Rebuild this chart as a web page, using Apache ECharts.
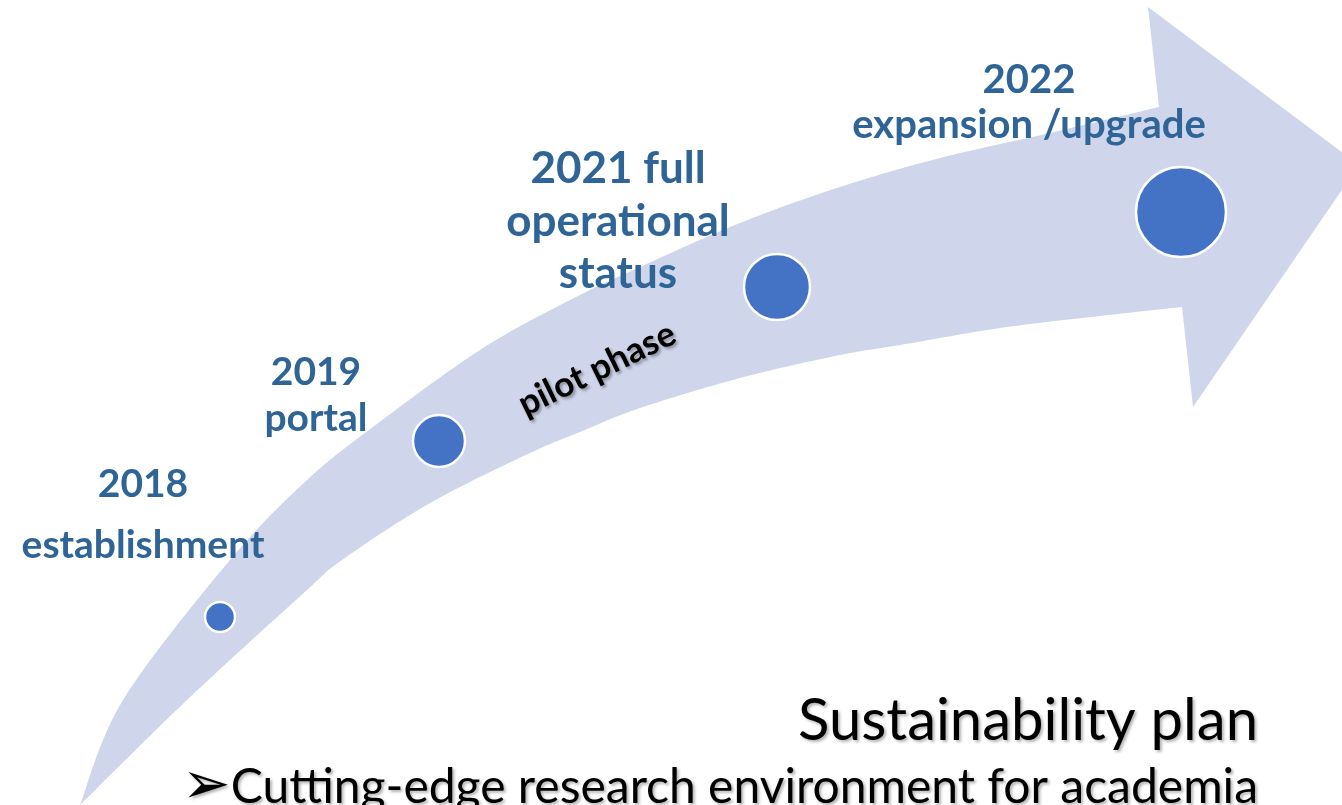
<!DOCTYPE html>
<html>
<head>
<meta charset="utf-8">
<script src="https://cdn.jsdelivr.net/npm/echarts@6/dist/echarts.min.js"></script>
<style>
html,body{margin:0;padding:0;background:#fff;}
#chart{width:1342px;height:805px;}
</style>
</head>
<body>
<div id="chart"></div>
<script>
// ---- data ----
const milestoneYears = ['2018', '2019', '2021', '2022'];
const milestoneLines = [
  ['2018', 'establishment'],
  ['2019', 'portal'],
  ['2021 full', 'operational', 'status'],
  ['2022', 'expansion /upgrade']
];
const milestoneX = [220, 439, 777, 1181];
const milestoneY = [617, 441, 287, 212];
const milestoneWeight = [15, 26, 33, 45];

// arrow outline (value space of the hidden axes)
const arrowUpperX = [80, 123, 230, 307, 373, 480, 570, 640, 740, 840, 940, 1050, 1159];
const arrowUpperY = [805, 700, 560, 480, 427, 350, 300, 267, 223, 187, 158, 133, 107];
const arrowHeadX = [1148, 1359, 1193];
const arrowHeadY = [7, 165, 407];
const arrowLowerX = [1182, 1100, 1000, 900, 840, 740, 640, 580, 530, 430, 342, 307, 187, 80];
const arrowLowerY = [307, 316, 328, 345, 355, 378, 408, 432, 453, 503, 560, 590, 700, 805];

const phaseLabel = 'pilot phase';
const titleText = 'Sustainability plan';
const bulletText = 'Cutting-edge research environment for academia';

// ---- layout / style ----
const blue = '#2F6497';
const labelLayout = [
  {x: 143, ys: [484, 545], size: 39},
  {x: 316, ys: [372, 418], size: 39},
  {x: 618, ys: [169, 222, 274], size: 44},
  {x: 1029, ys: [80, 125], size: 40}
];

function spline(pts, samples) {
  const out = [];
  for (let i = 0; i < pts.length - 1; i++) {
    const p0 = pts[i - 1] || pts[i], p1 = pts[i], p2 = pts[i + 1], p3 = pts[i + 2] || pts[i + 1];
    const c1 = [p1[0] + (p2[0] - p0[0]) / 6, p1[1] + (p2[1] - p0[1]) / 6];
    const c2 = [p2[0] - (p3[0] - p1[0]) / 6, p2[1] - (p3[1] - p1[1]) / 6];
    for (let k = 0; k < samples; k++) {
      const t = k / samples, u = 1 - t;
      out.push([
        u*u*u*p1[0] + 3*u*u*t*c1[0] + 3*u*t*t*c2[0] + t*t*t*p2[0],
        u*u*u*p1[1] + 3*u*u*t*c1[1] + 3*u*t*t*c2[1] + t*t*t*p2[1]
      ]);
    }
  }
  out.push(pts[pts.length - 1]);
  return out;
}

const chart = echarts.init(document.getElementById('chart'), null, {renderer: 'canvas'});

const graphics = [];
milestoneLines.forEach((lines, i) => {
  lines.forEach((t, j) => {
    graphics.push({
      type: 'text', x: labelLayout[i].x, y: labelLayout[i].ys[j], z: 100,
      style: {text: t, fill: blue, fontFamily: 'Lato', fontWeight: 'bold', fontSize: labelLayout[i].size,
              align: 'center', verticalAlign: 'middle'}
    });
  });
});
graphics.push({
  type: 'text', x: 597, y: 369, rotation: 26 * Math.PI / 180, z: 100,
  style: {text: phaseLabel, fill: '#000', fontFamily: 'Lato', fontWeight: 'bold', fontSize: 35,
          align: 'center', verticalAlign: 'middle',
          textShadowColor: 'rgba(0,0,0,0.35)', textShadowBlur: 3, textShadowOffsetX: 2, textShadowOffsetY: 2}
});
graphics.push({
  type: 'text', x: 1258, y: 721, z: 100,
  style: {text: titleText, fill: '#000', fontFamily: 'Lato', fontSize: 58,
          align: 'right', verticalAlign: 'middle',
          textShadowColor: 'rgba(0,0,0,0.3)', textShadowBlur: 3, textShadowOffsetX: 2, textShadowOffsetY: 2}
});
graphics.push({
  type: 'text', x: 1258, y: 788, z: 100,
  style: {text: '{a|\u27A2}' + bulletText, fill: '#000', fontFamily: 'Lato', fontSize: 48,
          align: 'right', verticalAlign: 'middle',
          textShadowColor: 'rgba(0,0,0,0.3)', textShadowBlur: 3, textShadowOffsetX: 2, textShadowOffsetY: 2,
          rich: {a: {fontFamily: 'DejaVu Sans', fontSize: 58, fill: '#000'}}}
});

chart.setOption({
  animation: false,
  backgroundColor: '#fff',
  grid: {left: 0, right: 0, top: 0, bottom: 0},
  xAxis: {type: 'value', min: 0, max: 1342, show: false},
  yAxis: {type: 'value', min: 0, max: 805, inverse: true, show: false},
  series: [
    {
      type: 'custom',
      clip: false,
      silent: true,
      z: 1,
      data: [[0, 0]],
      renderItem: function (params, api) {
        const up = arrowUpperX.map((x, i) => api.coord([x, arrowUpperY[i]]));
        const head = arrowHeadX.map((x, i) => api.coord([x, arrowHeadY[i]]));
        const low = arrowLowerX.map((x, i) => api.coord([x, arrowLowerY[i]]));
        const pts = spline(up, 16).concat(head).concat(spline(low, 16));
        return {type: 'polygon', shape: {points: pts}, style: {fill: '#CFD5EA'}};
      }
    },
    {
      type: 'scatter',
      z: 5,
      data: milestoneX.map((x, i) => [x, milestoneY[i], milestoneWeight[i], milestoneYears[i]]),
      symbol: 'circle',
      symbolSize: function (v) { return v[2] * 2; },
      itemStyle: {color: '#4472C4', borderColor: '#ffffff', borderWidth: 2.5, opacity: 1}
    }
  ],
  graphic: graphics
});
</script>
</body>
</html>
